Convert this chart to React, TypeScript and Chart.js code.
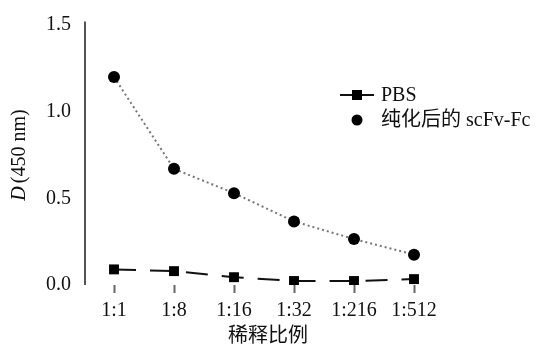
import React, { useEffect, useRef } from "react";
import { Chart, registerables } from "chart.js";

Chart.register(...registerables);

const categories = ["1:1", "1:8", "1:16", "1:32", "1:216", "1:512"];
const pbsValues = [0.09, 0.08, 0.045, 0.023, 0.023, 0.034];
const scfvValues = [1.2, 0.67, 0.53, 0.367, 0.265, 0.175];
const seriesNames = ["PBS", "纯化后的 scFv-Fc"];
const yTicks = [0, 0.5, 1.0, 1.5];
const xTitle = "稀释比例";

const SERIF = "'Liberation Serif', 'Times New Roman', serif";
const CJK = "'Liberation Serif', 'Noto Sans CJK SC', serif";

const overlay = {
  id: "overlay",
  afterDraw(chart: any) {
    const { ctx, chartArea } = chart;
    const ys = chart.scales.y;
    ctx.save();
    // y axis line
    ctx.strokeStyle = "#555";
    ctx.lineWidth = 2;
    ctx.beginPath();
    ctx.moveTo(chartArea.left + 1, ys.getPixelForValue(1.52));
    ctx.lineTo(chartArea.left + 1, ys.getPixelForValue(0));
    ctx.stroke();

    // y title
    ctx.save();
    ctx.translate(20, (chartArea.top + chartArea.bottom) / 2);
    ctx.rotate(-Math.PI / 2);
    ctx.fillStyle = "#111";
    ctx.textBaseline = "middle";
    const d = "D";
    ctx.font = `italic 20px ${SERIF}`;
    const wD = ctx.measureText(d).width;
    ctx.font = `20px ${SERIF}`;
    const rest = "(450 nm)";
    const wR = ctx.measureText(rest).width;
    const total = wD + wR + 3;
    ctx.font = `italic 20px ${SERIF}`;
    ctx.textAlign = "left";
    ctx.fillText(d, -total / 2, 0);
    ctx.font = `20px ${SERIF}`;
    ctx.fillText(rest, -total / 2 + wD + 3, 0);
    ctx.restore();

    // x title
    ctx.fillStyle = "#111";
    ctx.font = `20px ${CJK}`;
    ctx.textAlign = "center";
    ctx.textBaseline = "middle";
    ctx.fillText(xTitle, 268, 337);

    // legend
    const lx = 357;
    const ly1 = 95;
    const ly2 = 120;
    ctx.strokeStyle = "#111";
    ctx.lineWidth = 2;
    ctx.beginPath();
    ctx.moveTo(lx - 17, ly1);
    ctx.lineTo(lx + 17, ly1);
    ctx.stroke();
    ctx.fillStyle = "#000";
    ctx.fillRect(lx - 5, ly1 - 5, 10, 10);
    ctx.beginPath();
    ctx.arc(lx, ly2, 5.5, 0, Math.PI * 2);
    ctx.fill();
    ctx.fillStyle = "#111";
    ctx.textAlign = "left";
    ctx.font = `20px ${CJK}`;
    ctx.fillText(seriesNames[0], 381, ly1 + 1);
    ctx.fillText(seriesNames[1], 381, ly2 + 1);
    ctx.restore();
  },
};

export default function App() {
  const ref = useRef<HTMLCanvasElement | null>(null);
  useEffect(() => {
    if (!ref.current) return;
    const chart = new Chart(ref.current, {
      type: "line",
      data: {
        labels: categories,
        datasets: [
          {
            label: seriesNames[0],
            data: pbsValues,
            borderColor: "#111",
            borderWidth: 2,
            borderDash: [22, 14],
            pointStyle: "rect",
            pointRadius: 7,
            pointBackgroundColor: "#000",
            pointBorderColor: "#000",
            pointBorderWidth: 0,
            tension: 0,
          },
          {
            label: seriesNames[1],
            data: scfvValues,
            borderColor: "#777",
            borderWidth: 2,
            borderDash: [2, 3],
            pointStyle: "circle",
            pointRadius: 6,
            pointBackgroundColor: "#000",
            pointBorderColor: "#000",
            pointBorderWidth: 0,
            tension: 0,
          },
        ],
      },
      options: {
        animation: false,
        responsive: true,
        maintainAspectRatio: false,
        layout: { padding: { top: 19, right: 94, left: 0, bottom: 0 } },
        plugins: { legend: { display: false }, tooltip: { enabled: false } },
        scales: {
          x: {
            type: "category",
            offset: true,
            afterFit: (s: any) => {
              s.height = 64;
            },
            border: { display: false },
            grid: {
              display: true,
              offset: false,
              drawOnChartArea: false,
              drawTicks: true,
              tickLength: 8,
              tickWidth: 2,
              tickColor: "#666",
              color: "#666",
            },
            ticks: {
              color: "#111",
              padding: 6,
              font: { family: SERIF, size: 20 },
            },
          },
          y: {
            min: 0,
            max: 1.5,
            afterFit: (s: any) => {
              s.width = 84;
            },
            afterBuildTicks: (s: any) => {
              s.ticks = yTicks.map((v) => ({ value: v }));
            },
            border: { display: false },
            grid: { display: false, drawTicks: false },
            ticks: {
              color: "#111",
              padding: 13,
              font: { family: SERIF, size: 20 },
              callback: (v: any) => Number(v).toFixed(1),
            },
          },
        },
      },
      plugins: [overlay],
    });
    return () => chart.destroy();
  }, []);
  return (
    <div style={{ position: "absolute", left: 0, top: 0, width: 538, height: 349, background: "#fff" }}>
      <canvas ref={ref} />
    </div>
  );
}
